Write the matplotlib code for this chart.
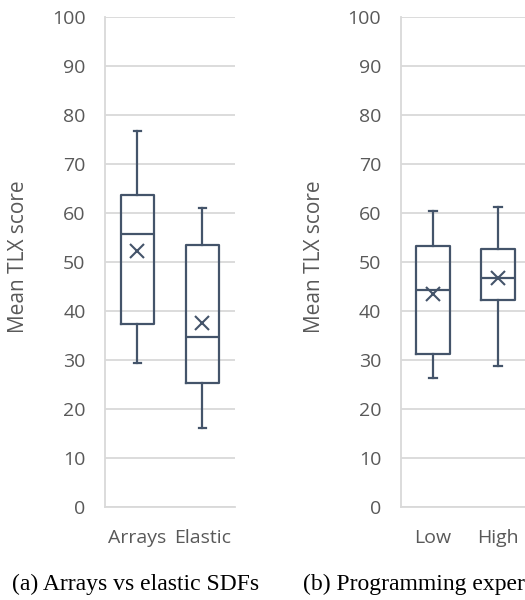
import matplotlib.pyplot as plt

# box plot stats
groups_a = ["Arrays", "Elastic"]
whislo_a = [29.4, 16.1]
q1_a = [37.4, 25.2]
med_a = [55.6, 34.7]
q3_a = [63.7, 53.4]
whishi_a = [76.7, 60.9]
mean_a = [52.3, 37.5]

groups_b = ["Low", "High"]
whislo_b = [26.4, 28.8]
q1_b = [31.3, 42.2]
med_b = [44.3, 46.8]
q3_b = [53.3, 52.6]
whishi_b = [60.4, 61.3]
mean_b = [43.5, 46.7]

yticks = [0, 10, 20, 30, 40, 50, 60, 70, 80, 90, 100]

col = "#44546A"
grid = "#D9D9D9"
txt = "#595959"
plt.rcParams['font.family'] = ['Open Sans', 'DejaVu Sans']


def make_stats(names, lo, q1, med, q3, hi, mean):
    out = []
    for i in range(len(names)):
        out.append(dict(label=names[i], whislo=lo[i], q1=q1[i], med=med[i],
                        q3=q3[i], whishi=hi[i], mean=mean[i], fliers=[]))
    return out


def draw(ax, stats, labx):
    ax.bxp(stats, positions=range(1, len(stats) + 1), widths=0.52,
           showmeans=True, showfliers=False,
           boxprops=dict(color=col, linewidth=1.6),
           medianprops=dict(color=col, linewidth=1.6),
           whiskerprops=dict(color=col, linewidth=1.6),
           capprops=dict(color=col, linewidth=1.6),
           capwidths=0.12,
           meanprops=dict(marker='x', markeredgecolor=col, markersize=10,
                          markeredgewidth=1.5))
    ax.set_xlim(0.5, len(stats) + 0.5)
    ax.set_ylim(0, 100)
    ax.set_yticks(yticks)
    ax.yaxis.grid(True, color=grid, linewidth=1.3)
    ax.set_axisbelow(True)
    for s in ['top', 'right']:
        ax.spines[s].set_visible(False)
    for s in ['left', 'bottom']:
        ax.spines[s].set_color(grid)
        ax.spines[s].set_linewidth(1.3)
    ax.tick_params(length=0, labelsize=14, labelcolor=txt)
    ax.tick_params(axis='y', pad=14)
    ax.tick_params(axis='x', pad=16)
    ax.set_ylabel("Mean TLX score", fontsize=15, color=txt)
    ax.yaxis.set_label_coords(labx, 0.51)


fig = plt.figure(figsize=(5.25, 6), dpi=100)
ax1 = fig.add_axes([0.2, 0.155, 0.2476, 0.817])
ax2 = fig.add_axes([0.763, 0.155, 0.2476, 0.817])

draw(ax1, make_stats(groups_a, whislo_a, q1_a, med_a, q3_a, whishi_a, mean_a), -0.585)
draw(ax2, make_stats(groups_b, whislo_b, q1_b, med_b, q3_b, whishi_b, mean_b), -0.58)

fig.text(0.259, 0.016, "(a) Arrays vs elastic SDFs", ha='center', va='baseline',
         fontsize=17, family='Liberation Serif')
fig.text(0.577, 0.016, "(b) Programming experience", ha='left', va='baseline',
         fontsize=17, family='Liberation Serif')

fig.savefig("out.png", dpi=100)
